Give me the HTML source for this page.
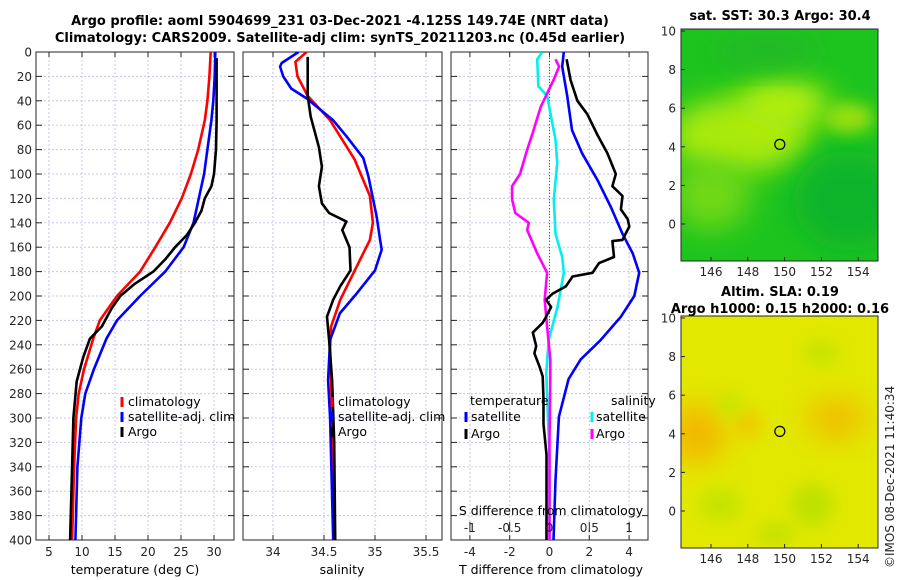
<!DOCTYPE html>
<html><head><meta charset="utf-8">
<style>
html,body{margin:0;padding:0;background:#fff;}
svg{display:block;font-family:"DejaVu Sans","Liberation Sans",sans-serif;}
.tk{font-size:12px;fill:#262626;}
.ttl{font-size:13px;font-weight:bold;fill:#000;}
.lg{font-size:12.5px;fill:#000;}
</style></head>
<body>
<svg id="fig" width="900" height="580" viewBox="0 0 900 580">
<defs>
<filter id="blur" x="-50%" y="-50%" width="200%" height="200%"><feGaussianBlur stdDeviation="14"/></filter>
<filter id="blur2" x="-50%" y="-50%" width="200%" height="200%"><feGaussianBlur stdDeviation="8"/></filter>
<clipPath id="c1"><rect x="36" y="52" width="198" height="488"/></clipPath>
<clipPath id="c2"><rect x="243" y="52" width="199" height="488"/></clipPath>
<clipPath id="c3"><rect x="451" y="52" width="197" height="488"/></clipPath>
<clipPath id="cm1"><rect x="681" y="29" width="197" height="232"/></clipPath>
<clipPath id="cm2"><rect x="681" y="316" width="197" height="232"/></clipPath>
</defs>
<text class="ttl" x="340" y="25" text-anchor="middle">Argo profile: aoml 5904699_231 03-Dec-2021 -4.125S 149.74E (NRT data)</text>
<text class="ttl" x="340" y="42" text-anchor="middle">Climatology: CARS2009. Satellite-adj clim: synTS_20211203.nc (0.45d earlier)</text>
<g id="g1"></g>
<g id="g2"></g>
<g id="g3"></g>
<g id="m1"></g>
<g id="m2"></g>
<text class="ttl" x="780" y="20" text-anchor="middle">sat. SST: 30.3 Argo: 30.4</text>
<text class="ttl" x="780" y="296" text-anchor="middle">Altim. SLA: 0.19</text>
<text class="ttl" x="780" y="313" text-anchor="middle">Argo h1000: 0.15 h2000: 0.16</text>
<text class="tk" transform="translate(894,568) rotate(-90)">©IMOS 08-Dec-2021 11:40:34</text>
</svg>
<script>
const tempDepth = [0,20,40,56,80,100,120,140,160,180,200,220,235,260,280,300,340,400];
const tempClim  = [29.5,29.3,29.0,28.6,27.6,26.5,25.1,23.3,21.1,18.8,15.3,12.7,11.7,10.3,9.5,9.1,8.8,8.5];
const tempSat   = [30.2,30.1,29.9,29.6,29.0,28.5,27.7,26.9,25.4,22.6,18.8,15.3,13.7,11.8,10.5,9.9,9.3,9.0];
const argoDepth = [5,40,56,80,100,110,120,130,140,150,160,170,180,190,200,210,225,235,250,270,300,340,400];
const tempArgo  = [30.4,30.4,30.4,30.3,30.0,29.6,28.6,28.1,27.1,25.9,24.1,22.6,20.8,18.0,15.8,14.5,13.0,11.2,10.2,9.2,8.7,8.5,8.2];

const salSatDepth = [0,9,12,20,30,38,56,69,87,102,135,154,162,179,198,214,236,269,300,400];
const salSat      = [34.25,34.085,34.07,34.10,34.18,34.33,34.59,34.72,34.885,34.935,35.017,35.05,35.066,35.0,34.82,34.657,34.56,34.54,34.56,34.59];
const salClimDepth= [0,8,20,36,56,88,118,140,154,181,203,225,241,300,400];
const salClim     = [34.33,34.22,34.24,34.34,34.56,34.8,34.95,34.98,34.95,34.79,34.66,34.57,34.56,34.58,34.60];
const salArgoDepth= [4,36,53,78,94,110,124,132,139,146,160,179,192,203,217,236,269,320,400];
const salArgo     = [34.34,34.34,34.37,34.45,34.48,34.45,34.48,34.55,34.72,34.68,34.75,34.76,34.66,34.59,34.53,34.55,34.58,34.60,34.61];

const dSatSDepth = [0,6,28,36,72,91,121,149,168,181,209,236,263,300,330,400];
const dSatS      = [-0.09,-0.155,-0.14,-0.03,0.076,0.097,0.054,0.076,0.16,0.18,0.10,-0.01,-0.04,-0.02,0.0,0.0];
const dArgoSDepth= [6,12,23,45,64,80,100,110,121,132,140,146,165,181,203,225,252,269,320,400];
const dArgoS     = [0.076,0.12,0.05,-0.11,-0.2,-0.28,-0.37,-0.47,-0.47,-0.43,-0.26,-0.28,-0.155,-0.03,-0.06,-0.03,0.01,0.01,0.0,0.0];
const dSatTDepth = [0,12,36,64,83,105,127,149,165,181,200,217,236,252,268,299,351,400];
const dSatT      = [0.72,0.64,0.89,1.13,1.64,2.41,3.08,3.67,4.18,4.51,4.26,3.59,2.58,1.57,0.96,0.47,0.3,0.2];
const dArgoTDepth= [6,23,40,51,68,83,100,110,118,129,137,143,154,155,168,173,181,184,192,198,203,209,217,222,230,241,247,258,266,285,305,330,400];
const dArgoT     = [0.86,1.06,1.4,1.9,2.41,2.91,3.33,3.16,3.67,3.59,3.93,4.01,3.67,3.16,3.24,2.49,2.16,1.16,0.83,0.16,-0.17,0.08,-0.17,-0.34,-0.84,-0.67,-0.76,-0.5,-0.34,-0.3,-0.3,-0.15,-0.15];

const depthTicks = [0,20,40,60,80,100,120,140,160,180,200,220,240,260,280,300,320,340,360,380,400];
const tTicks = [5,10,15,20,25,30];
const sTicks = [34,34.5,35,35.5];
const dTTicks = [-4,-2,0,2,4];
const dSTicks = [-1,-0.5,0,0.5,1];
const lonTicks = [146,148,150,152,154];
const latTicks = [0,2,4,6,8,10];

const NS='http://www.w3.org/2000/svg';
function mk(tag, attrs, parent){const e=document.createElementNS(NS,tag);for(const k in attrs)e.setAttribute(k,attrs[k]);parent.appendChild(e);return e;}
const Y0=52,Y1=540;
const yD = d => Y0 + d*(Y1-Y0)/400;

function panel(g, x0, x1, xmin, xmax, xt, fmt, clip, depthLabels){
  const xs = v => x0 + (v-xmin)*(x1-x0)/(xmax-xmin);
  xt.forEach(v=>{
    const l=mk('line',{x1:xs(v),x2:xs(v),y1:Y0,y2:Y1,stroke:'#c4c8e8','stroke-width':1,'stroke-dasharray':'2,2'},g);
    
    
    const t=mk('line',{x1:xs(v),x2:xs(v),y1:Y1,y2:Y1-5,stroke:'#262626'},g);
    
    
    const t2=mk('line',{x1:xs(v),x2:xs(v),y1:Y0,y2:Y0+5,stroke:'#262626'},g);
    
    
    const tx=mk('text',{x:xs(v),y:556,'text-anchor':'middle',class:'tk'},g);tx.textContent=fmt(v);
    
    
  });
  depthTicks.forEach(d=>{
    const l=mk('line',{x1:x0,x2:x1,y1:yD(d),y2:yD(d),stroke:'#c4c8e8','stroke-width':1,'stroke-dasharray':'2,2'},g);
    
    
    const a=mk('line',{x1:x0,x2:x0+6,y1:yD(d),y2:yD(d),stroke:'#262626'},g);
    
    
    const b=mk('line',{x1:x1-6,x2:x1,y1:yD(d),y2:yD(d),stroke:'#262626'},g);
    
    
    if(depthLabels){
      const tx=mk('text',{x:x0-4,y:yD(d)+4.5,'text-anchor':'end',class:'tk'},g);tx.textContent=d;
      
      
    }
  });
  const r=mk('rect',{x:x0,y:Y0,width:x1-x0,height:Y1-Y0,fill:'none',stroke:'#262626','stroke-width':1},g);
  
  
  return xs;
}
function series(g, xs, vals, depths, color, clip, name){
  const pts = vals.map((v,i)=>xs(v).toFixed(1)+','+yD(depths[i]).toFixed(1)).join(' ');
  const p=mk('polyline',{points:pts,fill:'none',stroke:color,'stroke-width':2.6,'stroke-linejoin':'round','clip-path':'url(#'+clip+')'},g);
  
  
}
function text(g,x,y,s,cls,anchor,name){
  const t=mk('text',{x:x,y:y,class:cls,'text-anchor':anchor||'start'},g);t.textContent=s;
  
  
}
function lgBar(g,x,y,color,name){
  const l=mk('line',{x1:x,x2:x,y1:y-10,y2:y,stroke:color,'stroke-width':3},g);
  
  
}

const g1=document.getElementById('g1');
const x1s=panel(g1,36,234,3.03,33.03,tTicks,v=>v,'c1',true);
series(g1,x1s,tempClim,tempDepth,'#ff0000','c1','temp-climatology-line');
series(g1,x1s,tempSat,tempDepth,'#0000ff','c1','temp-satellite-line');
series(g1,x1s,tempArgo,argoDepth,'#000000','c1','temp-argo-line');
text(g1,135,574,'temperature (deg C)','lg','middle','temperature-axis-title');
lgBar(g1,122,407,'#ff0000','legend-climatology-swatch');text(g1,128,406,'climatology','lg','start','legend-climatology');
lgBar(g1,122,422,'#0000ff','legend-satellite-swatch');text(g1,128,421,'satellite-adj. clim','lg','start','legend-satellite');
lgBar(g1,122,437,'#000000','legend-argo-swatch');text(g1,128,436,'Argo','lg','start','legend-argo');

const g2=document.getElementById('g2');
const x2s=panel(g2,243,442,33.706,35.657,sTicks,v=>v,'c2',false);
series(g2,x2s,salClim,salClimDepth,'#ff0000','c2','sal-climatology-line');
series(g2,x2s,salSat,salSatDepth,'#0000ff','c2','sal-satellite-line');
series(g2,x2s,salArgo,salArgoDepth,'#000000','c2','sal-argo-line');
text(g2,342,574,'salinity','lg','middle','salinity-axis-title');
lgBar(g2,332,407,'#ff0000','legend2-climatology-swatch');text(g2,338,406,'climatology','lg','start','legend2-climatology');
lgBar(g2,332,422,'#0000ff','legend2-satellite-swatch');text(g2,338,421,'satellite-adj. clim','lg','start','legend2-satellite');
lgBar(g2,332,437,'#000000','legend2-argo-swatch');text(g2,338,436,'Argo','lg','start','legend2-argo');

const g3=document.getElementById('g3');
const x3s=panel(g3,451,648,-4.95,4.95,dTTicks,v=>v,'c3',false);
const zl=mk('line',{x1:x3s(0),x2:x3s(0),y1:Y0,y2:Y1,stroke:'#555','stroke-width':1,'stroke-dasharray':'1,2'},g3);


const sx = v => x3s(v*4);
series(g3,sx,dSatS,dSatSDepth,'#00f0f0','c3','sal-diff-satellite-line');
series(g3,sx,dArgoS,dArgoSDepth,'#ff00ff','c3','sal-diff-argo-line');
series(g3,x3s,dSatT,dSatTDepth,'#0000ff','c3','temp-diff-satellite-line');
series(g3,x3s,dArgoT,dArgoTDepth,'#000000','c3','temp-diff-argo-line');
dSTicks.forEach(v=>{
  const t=mk('line',{x1:sx(v),x2:sx(v),y1:522,y2:532,stroke:'#262626'},g3);
  
  
  text(g3,sx(v),532,String(v),'tk','middle','s-diff-tick-label');
});
text(g3,551,515,'S difference from climatology','lg','middle','s-diff-axis-title');
text(g3,551,574,'T difference from climatology','lg','middle','t-diff-axis-title');
text(g3,470,405,'temperature','lg','start','legend3-temperature-header');
text(g3,611,405,'salinity','lg','start','legend3-salinity-header');
lgBar(g3,466,422,'#0000ff','legend3-temp-satellite-swatch');text(g3,471,421,'satellite','lg','start','legend3-temp-satellite');
lgBar(g3,466,439,'#000000','legend3-temp-argo-swatch');text(g3,471,438,'Argo','lg','start','legend3-temp-argo');
lgBar(g3,592,422,'#00f0f0','legend3-sal-satellite-swatch');text(g3,596,421,'satellite','lg','start','legend3-sal-satellite');
lgBar(g3,592,439,'#ff00ff','legend3-sal-argo-swatch');text(g3,596,438,'Argo','lg','start','legend3-sal-argo');

function map(g, top, clip, base, blobs){
  const x0=681,x1=878,bot=top+232;
  const lx = lon => 711 + (lon-146)*18.4;
  const ly = lat => top+2 + (10-lat)*19.3;
  const r=mk('rect',{x:x0,y:top,width:x1-x0,height:bot-top,fill:base},g);
  
  
  const bg=mk('g',{'clip-path':'url(#'+clip+')'},g);
  blobs.forEach(b=>{
    const e=mk('ellipse',{cx:lx(b[0]),cy:ly(b[1]),rx:b[2],ry:b[3],fill:b[4],filter:'url(#'+(b[5]||'blur')+')'},bg);
    
    
  });
  const c=mk('circle',{cx:lx(149.74),cy:ly(4.125),r:5,fill:'none',stroke:'#000','stroke-width':1.2},g);
  
  
  const f=mk('rect',{x:x0,y:top,width:x1-x0,height:bot-top,fill:'none',stroke:'#262626'},g);
  
  
  lonTicks.forEach(v=>{
    const t=mk('line',{x1:lx(v),x2:lx(v),y1:bot,y2:bot-4,stroke:'#262626'},g);
    
    
    text(g,lx(v),bot+15,String(v),'tk','middle','lon-tick-label');
  });
  latTicks.forEach(v=>{
    const t=mk('line',{x1:x0,x2:x0+4,y1:ly(v),y2:ly(v),stroke:'#262626'},g);
    
    
    text(g,x0-5,ly(v)+4.5,String(v),'tk','end','lat-tick-label');
  });
}
map(document.getElementById('m1'),29,'cm1','#1ec41e',[
  [147.5,4.6,70,38,'#aaea0a'],[150,6.2,45,25,'#b4ee10'],[146,1.5,40,35,'#70d818'],
  [153.5,1.2,55,50,'#0cb42a'],[149,9,50,18,'#22b825'],[153.5,5.5,25,15,'#9ae010','blur2']
]);
map(document.getElementById('m2'),316,'cm2','#e2e800',[
  [145.2,4.0,30,30,'#f2b800'],[148,4.5,14,14,'#f0c800','blur2'],[152.8,4.8,30,22,'#f0c000'],
  [147,5.5,14,12,'#c8e400','blur2'],[146.5,0.3,22,18,'#c6e400','blur2'],[151.5,0.3,22,22,'#bfe200','blur2'],
  [152,8.2,18,14,'#c8e400','blur2'],[149.5,-1.2,20,12,'#c4e200','blur2']
]);
</script>
</body></html>
